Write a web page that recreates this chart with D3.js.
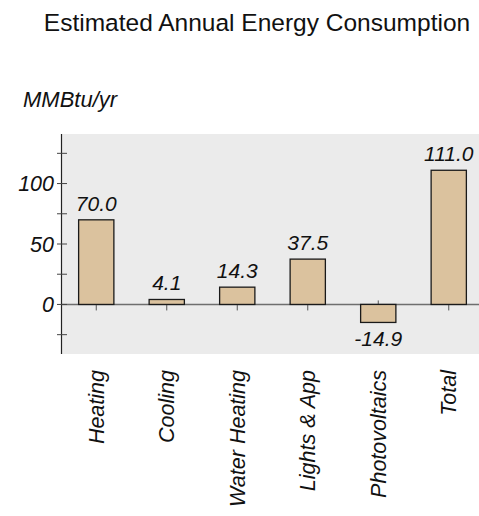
<!DOCTYPE html>
<html>
<head>
<meta charset="utf-8">
<script src="https://cdn.jsdelivr.net/npm/d3@7/dist/d3.min.js"></script>
<style>
  html, body { margin: 0; padding: 0; background: #fff; }
  svg { display: block; font-family: "Liberation Sans", Arial, sans-serif; }
</style>
</head>
<body>
<svg id="chart" width="479" height="516"></svg>
<script>
const categories = ["Heating", "Cooling", "Water Heating", "Lights & App", "Photovoltaics", "Total"];
const values = [70.0, 4.1, 14.3, 37.5, -14.9, 111.0];
const valueLabels = ["70.0", "4.1", "14.3", "37.5", "-14.9", "111.0"];
const yTicks = [-25, 0, 25, 50, 75, 100, 125];
const yTickLabels = {0: "0", 50: "50", 100: "100"};
const title = "Estimated Annual Energy Consumption";
const unitLabel = "MMBtu/yr";

const svg = d3.select("#chart");
const plot = { left: 61, top: 134, right: 479, bottom: 354 };

const x = d3.scaleBand().domain(categories).range([61, 484]).paddingInner(0.5).paddingOuter(0.25);
const y = d3.scaleLinear().domain([-41, 141]).range([plot.bottom, plot.top]);

// title
svg.append("text").attr("x", 257).attr("y", 31).attr("text-anchor", "middle")
  .attr("font-size", 24.5).attr("fill", "#111").text(title);
svg.append("text").attr("x", 23).attr("y", 107).attr("font-style", "italic")
  .attr("font-size", 22).attr("fill", "#111").text(unitLabel);

// plot bg
svg.append("rect").attr("x", plot.left).attr("y", plot.top)
  .attr("width", plot.right - plot.left).attr("height", plot.bottom - plot.top)
  .attr("fill", "#ebebeb");

// zero line
svg.append("line").attr("x1", plot.left).attr("x2", plot.right)
  .attr("y1", y(0)).attr("y2", y(0)).attr("stroke", "#6e6e6e").attr("stroke-width", 1.5);

// x ticks on zero line
svg.append("g").selectAll("line").data(categories).join("line")
  .attr("x1", d => x(d) + x.bandwidth() / 2).attr("x2", d => x(d) + x.bandwidth() / 2)
  .attr("y1", y(0) - 4).attr("y2", y(0) + 6)
  .attr("stroke", "#555").attr("stroke-width", 1);

// bars
svg.append("g").selectAll("rect").data(values).join("rect")
  .attr("x", (d, i) => x(categories[i]))
  .attr("width", x.bandwidth())
  .attr("y", d => y(Math.max(0, d)))
  .attr("height", d => Math.abs(y(d) - y(0)))
  .attr("fill", "#dbc29e").attr("stroke", "#1a1a1a").attr("stroke-width", 1.3);

// value labels
svg.append("g").selectAll("text").data(values).join("text")
  .attr("x", (d, i) => x(categories[i]) + x.bandwidth() / 2)
  .attr("y", d => d >= 0 ? y(d) - 9 : y(d) + 24)
  .attr("text-anchor", "middle").attr("font-style", "italic")
  .attr("font-size", 21).attr("fill", "#111")
  .text((d, i) => valueLabels[i]);

// y axis
svg.append("line").attr("x1", 61.5).attr("x2", 61.5)
  .attr("y1", plot.top).attr("y2", plot.bottom).attr("stroke", "#222").attr("stroke-width", 1.2);
svg.append("g").selectAll("line").data(yTicks).join("line")
  .attr("x1", 57).attr("x2", 67)
  .attr("y1", d => y(d)).attr("y2", d => y(d))
  .attr("stroke", "#444").attr("stroke-width", 1);
svg.append("g").selectAll("text").data(yTicks.filter(d => yTickLabels[d] !== undefined)).join("text")
  .attr("x", 54).attr("y", d => y(d)).attr("dy", "0.36em")
  .attr("text-anchor", "end").attr("font-style", "italic")
  .attr("font-size", 21.5).attr("fill", "#111")
  .text(d => yTickLabels[d]);

// category labels
svg.append("g").selectAll("text").data(categories).join("text")
  .attr("transform", d => `translate(${x(d) + x.bandwidth() / 2 + 7.5},370) rotate(-90)`)
  .attr("text-anchor", "end").attr("font-style", "italic")
  .attr("font-size", 21.5).attr("fill", "#111")
  .text(d => d);
</script>
</body>
</html>
